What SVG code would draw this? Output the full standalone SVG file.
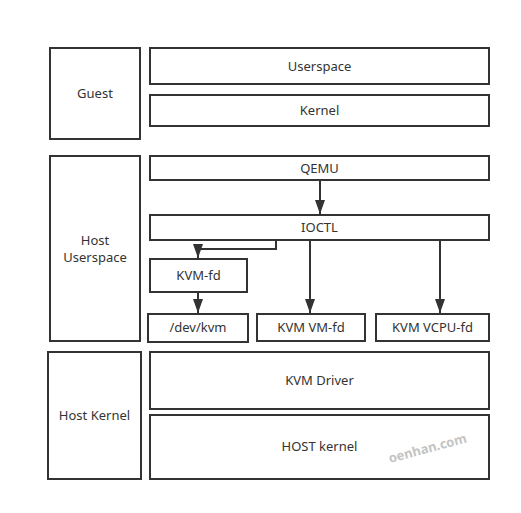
<svg xmlns="http://www.w3.org/2000/svg" width="521" height="513" viewBox="0 0 521 513">
<defs>
<style>
.box{fill:#fff;stroke:#333;stroke-width:2}
.t{font-family:"Noto Sans","DejaVu Sans",sans-serif;font-size:13px;fill:#333;text-anchor:middle;dominant-baseline:central}
.c{fill:none;stroke:#333;stroke-width:2}
.wm{font-family:"Noto Sans",sans-serif;font-size:13px;fill:#c4c4c4;font-weight:bold}
</style>
<marker id="arr" viewBox="0 0 14 10" refX="14" refY="5" markerWidth="14" markerHeight="10" orient="auto" markerUnits="userSpaceOnUse">
<path d="M0,0 L14,5 L0,10 z" fill="#333"/>
</marker>
</defs>
<rect width="521" height="513" fill="#fff"/>
<g id="guest"><rect class="box" x="50" y="48" width="90" height="91"/><text class="t" x="95" y="93">Guest</text></g>
<g id="userspace"><rect class="box" x="150" y="48" width="339" height="36"/><text class="t" x="319.5" y="66">Userspace</text></g>
<g id="kernel"><rect class="box" x="150" y="95" width="339" height="31"/><text class="t" x="319.5" y="110">Kernel</text></g>
<g id="host-userspace"><rect class="box" x="50" y="156" width="90" height="185"/><text class="t" x="95" y="239.5">Host</text><text class="t" x="95" y="256.5">Userspace</text></g>
<g id="qemu"><rect class="box" x="150" y="156" width="339" height="24"/><text class="t" x="319.5" y="168">QEMU</text></g>
<g id="ioctl"><rect class="box" x="150" y="215" width="339" height="25"/><text class="t" x="319.5" y="227">IOCTL</text></g>
<g id="kvm-fd"><rect class="box" x="150" y="259" width="97" height="33"/><text class="t" x="198.5" y="275">KVM-fd</text></g>
<g id="dev-kvm"><rect class="box" x="148" y="314" width="100" height="28"/><text class="t" x="198" y="327">/dev/kvm</text></g>
<g id="kvm-vm-fd"><rect class="box" x="257" y="314" width="108" height="27"/><text class="t" x="311" y="327">KVM VM-fd</text></g>
<g id="kvm-vcpu-fd"><rect class="box" x="376" y="314" width="113" height="27"/><text class="t" x="432.5" y="327">KVM VCPU-fd</text></g>
<g id="host-kernel"><rect class="box" x="48" y="352" width="93" height="127"/><text class="t" x="94.5" y="415">Host Kernel</text></g>
<g id="kvm-driver"><rect class="box" x="150" y="352" width="339" height="57"/><text class="t" x="319.5" y="380">KVM Driver</text></g>
<g id="host-kernel-box"><rect class="box" x="150" y="415" width="339" height="64"/><text class="t" x="319.5" y="446">HOST kernel</text></g>
<g id="connectors">
<path class="c" d="M320,181 V214" marker-end="url(#arr)"/>
<path class="c" d="M276,241 V249 H198 V258" marker-end="url(#arr)"/>
<path class="c" d="M198,293 V313" marker-end="url(#arr)"/>
<path class="c" d="M310,241 V313" marker-end="url(#arr)"/>
<path class="c" d="M440,241 V313" marker-end="url(#arr)"/>
</g>
<text class="wm" x="390" y="463" transform="rotate(-15 390 463)">oenhan.com</text>
</svg>
